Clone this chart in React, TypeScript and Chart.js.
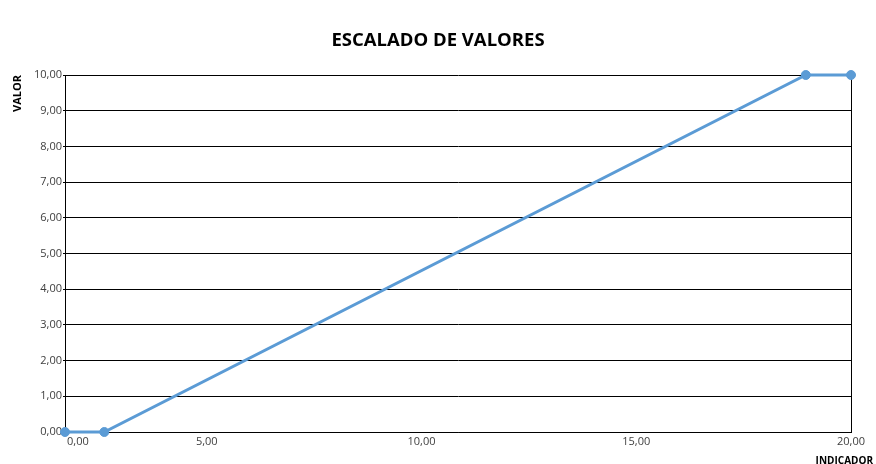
import { useEffect, useRef } from 'react';
import { Chart, registerables } from 'chart.js';

Chart.register(...registerables);

// Indicator value (x) and scaled value (y) for each point of the scale
const indicador = [0, 1, 18.85, 20];
const valor = [0, 0, 10, 10];

// Labels along the bottom axis
const xTickLabels = ['0,00', '5,00', '10,00', '15,00', '20,00'];

const TITLE = 'ESCALADO DE VALORES';
const Y_TITLE = 'VALOR';
const X_TITLE = 'INDICADOR';

const LINE_COLOR = '#5B9BD5';
const TEXT_COLOR = '#404040';
const FONT_FAMILY = '"Open Sans", "Noto Sans", sans-serif';

const fmt = (v: number) => v.toFixed(2).replace('.', ',');

// Draws the horizontal axis caption below the right end of the plot
const xTitlePlugin = {
  id: 'xTitle',
  afterDraw(chart: Chart) {
    const { ctx, chartArea } = chart;
    ctx.save();
    ctx.font = `bold 10px ${FONT_FAMILY}`;
    ctx.fillStyle = '#000';
    ctx.textAlign = 'right';
    ctx.textBaseline = 'alphabetic';
    ctx.fillText(X_TITLE, chartArea.right + 22, chart.height);
    ctx.restore();
  },
};

export default function App() {
  const canvasRef = useRef<HTMLCanvasElement | null>(null);

  useEffect(() => {
    document.body.style.margin = '0';
    const canvas = canvasRef.current;
    if (!canvas) return;

    const chart = new Chart(canvas, {
      type: 'line',
      data: {
        datasets: [
          {
            data: indicador.map((x, i) => ({ x, y: valor[i] })),
            xAxisID: 'x',
            yAxisID: 'y',
            borderColor: LINE_COLOR,
            backgroundColor: LINE_COLOR,
            borderWidth: 3,
            pointRadius: 4.5,
            pointHoverRadius: 4.5,
            pointBackgroundColor: LINE_COLOR,
            pointBorderColor: LINE_COLOR,
            pointBorderWidth: 1,
            tension: 0,
            clip: false as any,
          },
        ],
      },
      options: {
        animation: false,
        responsive: false,
        maintainAspectRatio: false,
        events: [],
        layout: { padding: 0 },
        plugins: {
          legend: { display: false },
          tooltip: { enabled: false },
          title: {
            display: true,
            text: TITLE,
            color: '#000',
            font: { family: FONT_FAMILY, size: 18.5, weight: 'bold' },
            padding: { top: 30, bottom: 22.8 },
          },
        },
        scales: {
          // data axis, shares the plot width with the labelled axis below
          x: {
            type: 'linear',
            display: false,
            min: 0,
            max: 20,
          },
          xt: {
            type: 'linear',
            position: 'bottom',
            min: 1.7,
            max: 20,
            afterBuildTicks: (scale: any) => {
              scale.ticks = [2, 5, 10, 15, 20].map((value) => ({ value }));
            },
            afterFit: (scale: any) => {
              scale.height = 32;
            },
            grid: { display: false, drawTicks: false },
            border: { display: true, color: '#000', width: 1 },
            ticks: {
              color: TEXT_COLOR,
              font: { family: FONT_FAMILY, size: 11 },
              padding: 3,
              maxRotation: 0,
              autoSkip: false,
              callback: (_v: any, i: number) => xTickLabels[i],
            },
          },
          y: {
            type: 'linear',
            position: 'left',
            min: 0,
            max: 10,
            afterFit: (scale: any) => {
              scale.width = 65;
            },
            grid: { color: '#000', lineWidth: 1, drawTicks: true, tickLength: 2 },
            border: { display: true, color: '#000', width: 1 },
            ticks: {
              stepSize: 1,
              color: TEXT_COLOR,
              font: { family: FONT_FAMILY, size: 11 },
              padding: 1,
              callback: (v: any) => fmt(Number(v)),
            },
            title: {
              display: true,
              text: Y_TITLE,
              align: 'end',
              color: '#000',
              font: { family: FONT_FAMILY, size: 11, weight: 'bold' },
              padding: { top: 11, bottom: 0 },
            },
          },
          // right-hand frame line of the plot
          yRight: {
            type: 'linear',
            position: 'right',
            min: 0,
            max: 10,
            afterFit: (scale: any) => {
              scale.width = 25;
            },
            grid: { display: false, drawTicks: false },
            border: { display: true, color: '#000', width: 1 },
            ticks: { display: false },
          },
        },
      },
      plugins: [xTitlePlugin],
    } as any);

    return () => chart.destroy();
  }, []);

  return (
    <div style={{ position: 'fixed', left: 0, top: 0, width: 876, height: 464, background: '#fff' }}>
      <canvas ref={canvasRef} width={876} height={464} style={{ display: 'block' }} />
    </div>
  );
}
